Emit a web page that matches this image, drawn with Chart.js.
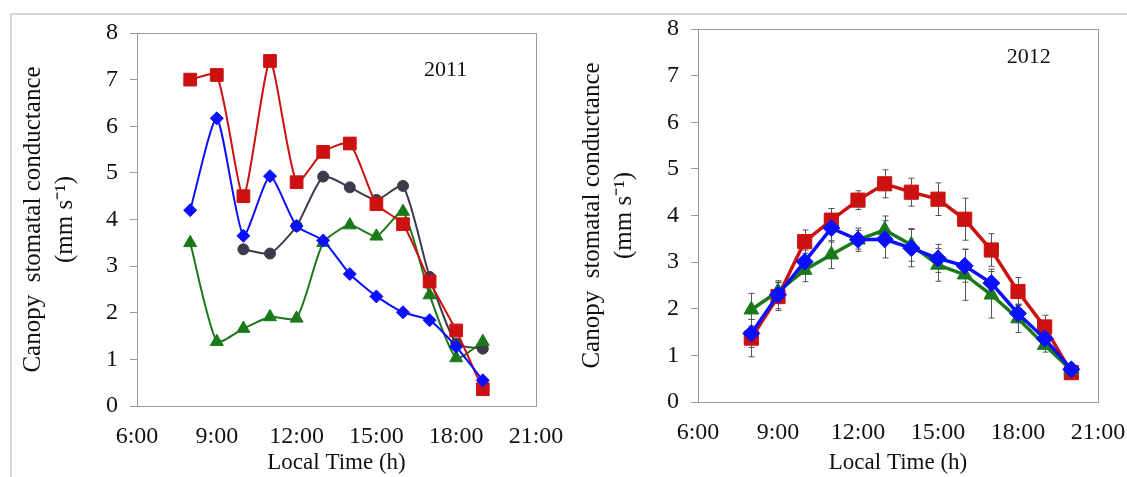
<!DOCTYPE html>
<html>
<head>
<meta charset="utf-8">
<script src="https://cdn.jsdelivr.net/npm/chart.js@4.4.1/dist/chart.umd.min.js"></script>
<style>
body{margin:0;background:#fff;}
#wrap{position:relative;width:1127px;height:477px;overflow:hidden;background:#fff;}
#frame{position:absolute;left:10px;top:13px;width:1117px;height:464px;border-top:2px solid #d6d6d6;border-left:2px solid #d6d6d6;}
#c2011{position:absolute;left:0;top:0;}
#c2012{position:absolute;left:563px;top:0;}
</style>
</head>
<body>
<div id="wrap">
  <div id="frame"></div>
  <canvas id="c2011" width="572" height="477"></canvas>
  <canvas id="c2012" width="564" height="477"></canvas>
</div>
<script>
// 2011 panel
const hours2011 = [8, 9, 10, 11, 12, 13, 14, 15, 16, 17, 18, 19];
const red2011   = [7.0, 7.1, 4.5, 7.4, 4.8, 5.45, 5.63, 4.33, 3.9, 2.67, 1.62, 0.36];
const blue2011  = [4.2, 6.17, 3.65, 4.93, 3.86, 3.55, 2.83, 2.35, 2.01, 1.84, 1.27, 0.55];
const gray2011  = [null, null, 3.36, 3.27, 3.86, 4.92, 4.69, 4.42, 4.72, 2.77, 1.34, 1.23];
const green2011 = [3.5, 1.38, 1.66, 1.91, 1.88, 3.5, 3.88, 3.64, 4.17, 2.38, 1.03, 1.38];

// 2012 panel (mean and error)
const hours2012 = [8, 9, 10, 11, 12, 13, 14, 15, 16, 17, 18, 19, 20];
const red2012     = [1.37, 2.26, 3.44, 3.9, 4.33, 4.68, 4.5, 4.35, 3.92, 3.26, 2.37, 1.61, 0.63];
const redErr2012  = [0.4, 0.3, 0.25, 0.25, 0.2, 0.3, 0.3, 0.35, 0.45, 0.35, 0.3, 0.25, 0.1];
const blue2012    = [1.47, 2.3, 3.01, 3.73, 3.48, 3.49, 3.3, 3.08, 2.92, 2.55, 1.9, 1.36, 0.7];
const blueErr2012 = [0.3, 0.3, 0.25, 0.3, 0.2, 0.4, 0.4, 0.3, 0.35, 0.3, 0.2, 0.15, 0.1];
const green2012    = [1.98, 2.37, 2.83, 3.16, 3.48, 3.69, 3.37, 2.94, 2.73, 2.3, 1.79, 1.22, 0.68];
const greenErr2012 = [0.35, 0.2, 0.25, 0.3, 0.25, 0.3, 0.35, 0.35, 0.55, 0.5, 0.3, 0.15, 0.1];

const xTicks = [6, 9, 12, 15, 18, 21];
const yTicks = [0, 1, 2, 3, 4, 5, 6, 7, 8];

const RED = '#cc1111', BLUE = '#0a10ff', DARK = '#3c3b4b', GREEN = '#1a7a1a';
const FONT = 'Liberation Serif';

function pts(hours, vals) {
  return hours.map((h, i) => ({x: h, y: vals[i]}));
}

const boxPlugin = {
  id: 'box',
  beforeDatasetsDraw(chart) {
    const a = chart.chartArea, ctx = chart.ctx;
    ctx.save();
    ctx.strokeStyle = '#9a9a9a';
    ctx.lineWidth = 1;
    ctx.strokeRect(a.left + 0.5, a.top + 0.5, a.right - a.left, a.bottom - a.top);
    ctx.restore();
  }
};

const errPlugin = {
  id: 'errbars',
  beforeDatasetsDraw(chart) {
    const ctx = chart.ctx, xs = chart.scales.x, ys = chart.scales.y;
    ctx.save();
    ctx.strokeStyle = '#555';
    ctx.lineWidth = 1;
    chart.data.datasets.forEach(ds => {
      if (!ds.errors) return;
      ds.data.forEach((p, i) => {
        const e = ds.errors[i];
        const px = Math.round(xs.getPixelForValue(p.x)) + 0.5;
        const t = ys.getPixelForValue(p.y + e), b = ys.getPixelForValue(p.y - e);
        ctx.beginPath();
        ctx.moveTo(px, t); ctx.lineTo(px, b);
        ctx.moveTo(px - 3, t); ctx.lineTo(px + 3, t);
        ctx.moveTo(px - 3, b); ctx.lineTo(px + 3, b);
        ctx.stroke();
      });
    });
    ctx.restore();
  }
};

const yearPlugin = {
  id: 'year',
  afterDraw(chart, args, opts) {
    const ctx = chart.ctx;
    ctx.save();
    ctx.font = '22px "' + FONT + '"';
    ctx.fillStyle = '#111';
    ctx.textAlign = 'center';
    ctx.textBaseline = 'middle';
    ctx.fillText(opts.text, chart.scales.x.getPixelForValue(opts.x), chart.scales.y.getPixelForValue(opts.y));
    ctx.restore();
  }
};

function makeOptions(cfg) {
  return {
    responsive: false,
    animation: false,
    layout: {padding: {left: 0, right: cfg.padRight, top: cfg.padTop, bottom: 0}},
    plugins: {
      legend: {display: false},
      tooltip: {enabled: false},
      year: {text: cfg.year, x: cfg.yearX, y: cfg.yearY}
    },
    scales: {
      x: {
        type: 'linear',
        min: 6, max: 21,
        afterBuildTicks: s => { s.ticks = xTicks.map(v => ({value: v})); },
        afterFit: s => { s.height = cfg.xHeight; s.paddingLeft = 0; s.paddingRight = 0; },
        border: {display: true, color: '#9a9a9a'},
        grid: {display: true, drawOnChartArea: false, drawTicks: false},
        ticks: {
          padding: 16, color: '#111', maxRotation: 0,
          font: {family: FONT, size: 24},
          callback: v => v + ':00'
        },
        title: {
          display: true, text: 'Local Time (h)', color: '#111',
          font: {family: FONT, size: 23}, padding: {top: 0, bottom: 0}
        }
      },
      y: {
        min: 0, max: 8,
        afterBuildTicks: s => { s.ticks = yTicks.map(v => ({value: v})); },
        afterFit: s => { s.width = cfg.yWidth; },
        border: {display: true, color: '#9a9a9a'},
        grid: {display: true, drawOnChartArea: false, drawTicks: true, tickLength: 7, color: '#9a9a9a'},
        ticks: {padding: 12, color: '#111', font: {family: FONT, size: 24}},
        title: {
          display: true,
          text: ['Canopy  stomatal conductance', '(mm s\u207B\u00B9)'],
          color: '#111',
          font: {family: FONT, size: 25, lineHeight: 1.28},
          padding: {top: cfg.titlePad, bottom: 0}
        }
      }
    }
  };
}

function series(label, hours, vals, color, style, radius, width, tension, errors) {
  return {
    label: label,
    data: pts(hours, vals),
    errors: errors,
    borderColor: color,
    backgroundColor: color,
    borderWidth: width,
    pointStyle: style,
    pointRadius: radius,
    pointBorderWidth: 1,
    pointBorderColor: color,
    pointBackgroundColor: color,
    tension: tension
  };
}

new Chart(document.getElementById('c2011'), {
  type: 'line',
  data: {
    datasets: [
      series('blue', hours2011, blue2011, BLUE, 'rectRot', 6.5, 2, 0.2),
      series('red', hours2011, red2011, RED, 'rect', 9, 2, 0.2),
      series('green', hours2011, green2011, GREEN, 'triangle', 7.5, 2, 0.2),
      series('dark', hours2011, gray2011, DARK, 'circle', 5.5, 2, 0.2)
    ]
  },
  options: makeOptions({
    padRight: 36, padTop: 33, xHeight: 71, yWidth: 137, titlePad: 17,
    year: '2011', yearX: 17.6, yearY: 7.2
  }),
  plugins: [boxPlugin, yearPlugin]
});

new Chart(document.getElementById('c2012'), {
  type: 'line',
  data: {
    datasets: [
      series('blue', hours2012, blue2012, BLUE, 'rectRot', 8.5, 3.5, 0, blueErr2012),
      series('green', hours2012, green2012, GREEN, 'triangle', 8.5, 3.5, 0, greenErr2012),
      series('red', hours2012, red2012, RED, 'rect', 10, 3.5, 0, redErr2012)
    ]
  },
  options: makeOptions({
    padRight: 29, padTop: 29, xHeight: 75, yWidth: 135, titlePad: 13,
    year: '2012', yearX: 18.4, yearY: 7.4
  }),
  plugins: [boxPlugin, errPlugin, yearPlugin]
});
</script>
</body>
</html>
